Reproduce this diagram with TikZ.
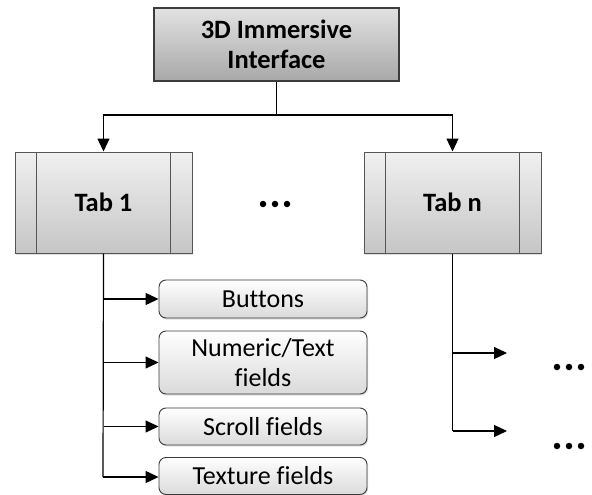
\documentclass[tikz,border=0pt]{standalone}
\usepackage{fontspec}
\setmainfont{Carlito}[Ligatures=NoCommon]
\usetikzlibrary{arrows.meta,positioning,calc,shadows}
\definecolor{edge}{HTML}{3C3C3C}
\definecolor{tabedge}{HTML}{555555}
\definecolor{toptop}{HTML}{E2E2E2}
\definecolor{topbot}{HTML}{A8A8A8}
\definecolor{tabtop}{HTML}{F0F0F0}
\definecolor{tabbot}{HTML}{C6C6C6}
\definecolor{leaftop}{HTML}{FFFFFF}
\definecolor{leafbot}{HTML}{DADADA}
\begin{document}
\begin{tikzpicture}[x=1pt,y=-1pt,
  txt/.style={font=\fontsize{26}{30}\selectfont, align=center, inner sep=0pt},
  topbox/.style={txt, font=\fontsize{26.5}{30.5}\selectfont\bfseries, draw=edge, line width=1.2pt,
    top color=toptop, bottom color=topbot, drop shadow={shadow xshift=1pt, shadow yshift=-1.5pt, opacity=0.3}},
  tabbox/.style={txt, font=\fontsize{26.5}{30.5}\selectfont\bfseries, draw=tabedge, line width=1pt,
    top color=tabtop, bottom color=tabbot, minimum width=177pt, minimum height=101pt,
    drop shadow={shadow xshift=1pt, shadow yshift=-1.5pt, opacity=0.25}},
  leaf/.style={txt, draw=edge, line width=0.9pt, rounded corners=7pt,
    top color=leaftop, bottom color=leafbot, minimum width=208pt,
    drop shadow={shadow xshift=1pt, shadow yshift=-1.5pt, opacity=0.25}},
  conn/.style={line width=1.2pt, draw=black},
  arr/.style={conn, -{Triangle[length=13pt,width=12pt]}},
  dotmark/.style={circle, fill=black, inner sep=0pt, minimum size=6.5pt}
]
\useasboundingbox (0,0) rectangle (592,495);

% top box
\node[topbox, minimum width=245pt, minimum height=73pt] (top) at (276.5,44.5) {3D Immersive\\Interface};

% tabs
\node[tabbox] (tab1) at (103.5,202.5) {Tab 1};
\node[tabbox] (tabn) at (452.5,202.5) {Tab n};
\draw[tabedge, line width=1pt] ($(tab1.north west)+(22,0)$) -- ($(tab1.south west)+(22,0)$);
\draw[tabedge, line width=1pt] ($(tab1.north east)+(-22,0)$) -- ($(tab1.south east)+(-22,0)$);
\draw[tabedge, line width=1pt] ($(tabn.north west)+(22,0)$) -- ($(tabn.south west)+(22,0)$);
\draw[tabedge, line width=1pt] ($(tabn.north east)+(-22,0)$) -- ($(tabn.south east)+(-22,0)$);

% middle ellipsis
\node[dotmark] (m1) at (263,204) {};
\node[dotmark] (m2) at (275,204) {};
\node[dotmark] (m3) at (287,204) {};

% leaves
\node[leaf, minimum height=38pt] (b1) at (263,299) {Buttons};
\node[leaf, minimum height=63pt] (b2) at (263,362.5) {Numeric/Text\\fields};
\node[leaf, minimum height=37pt] (b3) at (263,426.5) {Scroll fields};
\node[leaf, minimum height=37pt] (b4) at (263,476) {Texture fields};

% right ellipses
\node[dotmark] (r1) at (557,367) {};
\node[dotmark] (r2) at (569,367) {};
\node[dotmark] (r3) at (581,367) {};
\node[dotmark] (s1) at (557,446) {};
\node[dotmark] (s2) at (569,446) {};
\node[dotmark] (s3) at (581,446) {};

% connectors top -> tabs
\coordinate (j) at (276.5,115);
\draw[conn] (top.south) -- (j);
\draw[arr] (j) -| (tab1.north);
\draw[arr] (j) -| (tabn.north);

% tab1 -> leaves
\coordinate (t1end) at (103,477);
\draw[conn] (tab1.south) -- (t1end);
\draw[arr] (tab1.south |- b1.west) -- (b1.west);
\draw[arr] (tab1.south |- b2.west) -- (b2.west);
\draw[arr] (tab1.south |- b3.west) -- (b3.west);
\draw[arr] (t1end) -- (t1end -| b4.west);

% tabn -> ellipses
\coordinate (ta) at (452.5,353);
\coordinate (tb) at (452.5,431);
\coordinate (ea) at (507,353);
\coordinate (eb) at (507,431);
\draw[conn] (tabn.south) -- (tb);
\draw[arr] (ta) -- (ea);
\draw[arr] (tb) -- (eb);
\end{tikzpicture}
\end{document}
